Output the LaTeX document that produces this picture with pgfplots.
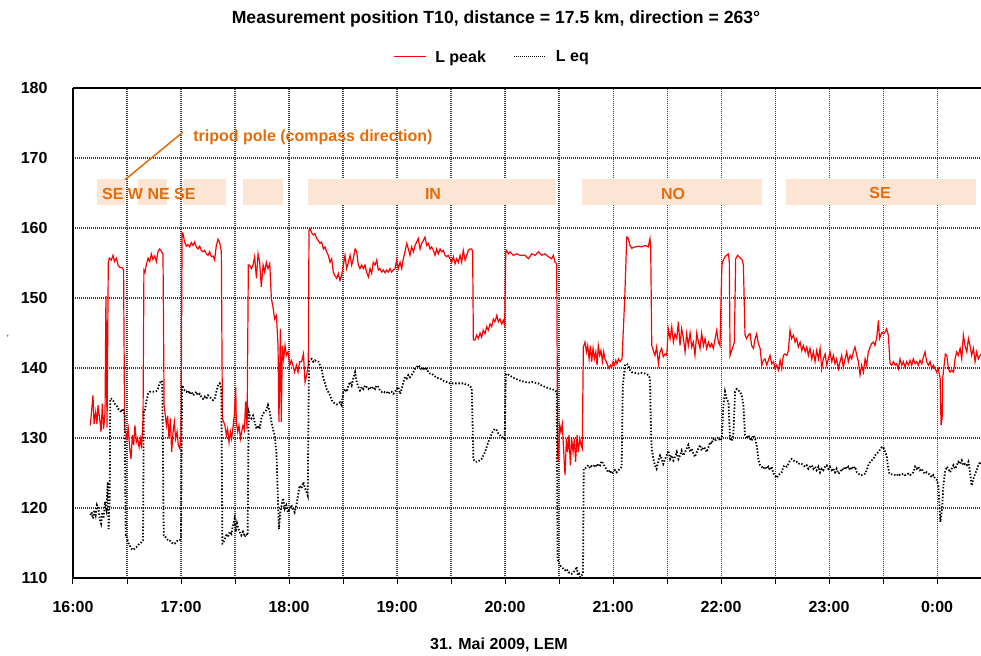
\documentclass[border=0pt]{standalone}
\usepackage{fontspec}
\setmainfont{Liberation Sans}
\usepackage{pgfplots}
\usepackage{pgfplotstable}
\pgfplotsset{compat=1.18}
\definecolor{annot}{RGB}{228,108,10}
\definecolor{boxfill}{RGB}{252,229,212}
\definecolor{gridgray}{RGB}{60,60,60}

% time in minutes after 16:00, level in dB
\pgfplotstableread{
m v
9.6 131.8
10.2 133.5
11.1 136.1
11.7 132.0
12.6 133.7
13.3 132.0
13.9 134.7
14.8 132.8
15.6 130.9
16.3 134.9
17.0 131.3
17.8 133.7
18.3 150.3
18.9 131.5
19.6 155.0
20.2 155.7
21.3 155.4
22.2 156.1
23.1 155.2
24.1 155.7
25.0 154.7
25.9 154.4
27.4 154.3
28.1 154.0
28.7 131.0
29.3 130.9
30.0 129.9
30.7 131.3
31.5 128.5
32.2 127.0
33.0 130.4
33.7 129.0
34.4 131.8
35.2 129.4
35.9 129.9
36.7 128.7
37.4 129.9
38.1 128.5
38.9 132.8
39.4 154.0
40.0 153.7
40.7 154.7
41.7 155.7
42.6 155.2
43.5 156.3
44.4 155.5
45.4 156.0
46.3 155.2
47.2 156.6
48.1 157.0
49.1 156.7
50.0 156.2
50.6 134.7
51.9 131.8
52.6 133.2
53.3 129.9
54.1 132.8
54.8 128.0
55.6 130.9
56.3 132.3
57.0 129.9
57.8 130.9
58.5 129.0
59.3 128.5
60.0 130.4
60.6 159.3
61.1 159.2
62.0 158.0
63.0 157.4
63.9 157.6
64.8 157.3
65.7 157.9
66.7 157.5
67.6 158.0
68.5 157.3
69.4 157.0
70.4 157.4
71.3 156.8
72.2 156.6
73.1 156.8
74.1 156.3
75.0 156.1
75.9 156.6
76.9 155.9
77.8 156.0
78.7 155.4
79.6 157.5
80.6 158.4
81.5 157.9
82.4 156.6
83.0 132.8
84.4 131.8
85.2 130.4
85.9 131.3
86.7 129.4
87.4 130.9
88.1 129.9
88.9 131.6
89.6 133.2
90.4 137.3
90.7 132.3
91.5 130.9
92.2 131.8
93.0 129.9
93.7 130.9
94.4 131.8
95.2 131.1
95.9 135.2
96.7 131.3
97.4 154.7
98.1 154.7
99.1 154.2
100.0 154.7
100.9 155.9
101.9 152.8
102.8 156.3
103.7 155.1
104.6 151.6
105.6 154.7
106.5 153.7
107.4 155.1
108.3 154.2
109.3 154.9
110.2 149.9
111.1 148.7
112.0 147.0
113.0 147.5
113.9 143.2
114.4 132.3
115.2 145.6
115.7 132.3
116.3 143.2
117.0 141.3
117.8 143.2
118.5 141.8
119.4 142.3
120.4 140.4
121.3 141.1
122.2 140.4
123.1 139.4
124.1 140.4
125.0 139.4
125.9 140.9
127.0 140.9
128.0 142.0
128.9 138.0
129.8 139.0
130.7 140.4
131.1 159.7
131.7 159.9
132.6 159.3
133.5 159.0
134.4 159.2
135.4 158.5
136.3 158.2
137.2 157.8
138.1 158.0
139.1 157.0
140.0 157.3
140.9 156.6
141.8 156.1
142.8 155.1
143.7 155.6
144.6 153.7
145.5 153.2
146.5 152.8
147.4 153.5
148.3 152.5
149.2 153.2
150.2 154.7
151.1 156.1
152.0 154.2
153.0 155.1
153.9 156.1
154.8 154.7
155.7 155.6
156.7 157.0
157.6 156.6
158.5 154.7
159.4 154.2
160.4 154.7
161.3 154.2
162.2 154.7
163.1 153.7
164.1 153.0
165.0 154.2
165.9 153.5
166.8 155.1
167.8 154.7
168.7 155.4
169.6 154.0
170.5 154.2
171.5 153.7
172.4 154.0
173.3 153.6
174.2 154.0
175.2 153.7
176.1 154.2
177.0 153.7
177.9 154.0
178.9 154.2
179.8 155.4
180.7 154.2
181.7 155.1
182.6 154.2
183.5 155.6
184.4 156.6
185.4 157.8
186.3 157.0
187.2 156.1
188.1 157.3
189.1 156.6
190.0 157.5
190.9 158.0
191.8 158.5
192.8 157.0
193.7 157.8
194.6 158.2
195.5 158.7
196.5 157.5
197.4 157.8
198.3 157.0
199.2 157.3
200.2 156.8
201.1 156.1
202.0 157.0
202.9 156.3
203.9 157.0
204.8 156.6
205.7 156.8
206.7 156.1
207.6 155.9
208.5 156.1
209.4 155.6
210.4 155.1
211.3 155.9
212.2 154.9
213.1 155.6
214.1 155.1
215.0 156.1
215.9 155.1
216.8 156.8
217.8 155.4
218.7 156.1
219.6 156.8
220.5 157.0
221.5 157.0
222.0 156.6
222.4 144.0
223.3 144.0
224.2 144.7
225.2 144.2
226.1 145.0
227.0 144.4
227.9 145.4
228.9 144.9
229.8 145.9
230.7 145.4
231.7 146.3
232.6 145.9
233.5 147.0
234.4 146.6
235.4 147.5
236.3 146.6
237.2 147.0
238.1 146.3
239.1 146.8
239.8 146.1
240.4 156.6
240.9 156.8
241.8 156.3
242.8 156.6
244.6 156.1
246.5 156.3
248.3 156.1
251.1 156.1
253.0 155.6
254.8 156.3
256.7 156.1
258.5 156.6
260.4 156.1
262.2 156.3
264.1 155.9
265.9 155.6
266.8 156.1
267.8 155.1
268.7 154.9
269.2 128.0
269.6 126.6
270.4 131.8
271.1 130.9
271.8 132.0
272.6 128.0
273.3 124.7
274.1 129.9
274.8 128.0
275.5 130.4
276.3 126.1
277.0 129.9
277.8 128.0
278.5 129.9
279.2 126.6
280.0 130.4
280.7 128.0
281.5 129.9
282.2 129.0
282.9 128.5
283.5 143.0
284.4 143.7
285.2 142.3
285.9 143.2
286.7 141.3
287.4 143.2
288.1 140.9
288.9 142.8
289.6 141.3
290.4 142.3
291.1 140.4
291.8 143.2
292.6 141.8
293.3 142.5
294.1 140.9
294.8 142.3
295.5 141.3
296.3 140.9
297.0 140.4
297.8 139.9
298.5 140.4
299.2 140.1
300.0 140.9
300.7 140.4
301.5 141.1
302.2 140.6
303.0 141.3
303.9 140.9
305.0 141.3
306.5 150.0
307.6 158.7
308.5 158.5
309.4 157.5
310.4 157.1
312.2 157.3
314.1 157.4
315.9 157.3
317.8 157.5
319.6 157.3
320.5 158.5
320.9 157.3
321.5 143.2
322.4 142.5
323.3 141.8
324.2 143.0
325.2 140.6
326.1 142.3
327.0 142.8
327.9 141.6
328.9 142.0
329.8 141.8
330.7 145.6
331.7 144.2
332.6 145.9
333.5 143.7
334.4 144.9
335.4 144.2
336.3 146.6
337.2 143.2
338.1 145.6
339.1 144.2
340.0 142.3
340.9 144.9
341.8 143.2
342.8 145.0
343.7 143.0
344.6 143.7
345.5 141.8
346.5 145.0
347.4 143.7
348.3 142.8
349.2 145.0
350.2 143.2
351.1 144.2
352.0 142.8
353.0 143.7
353.9 143.0
354.8 143.5
355.7 142.8
356.7 144.2
357.6 145.4
358.5 143.7
359.4 143.2
360.4 154.2
360.7 155.1
362.2 155.9
363.1 156.1
364.1 156.3
364.6 155.1
365.0 141.8
365.9 142.5
366.8 143.2
367.4 143.7
368.1 155.6
369.2 156.1
370.0 155.9
371.1 155.6
371.8 155.4
372.4 154.7
373.3 144.7
374.2 144.2
375.2 144.7
376.1 144.9
377.0 143.2
378.0 142.8
378.9 144.2
379.8 144.9
380.7 143.5
381.7 142.8
382.6 140.4
383.5 141.1
384.4 141.3
385.4 140.4
386.3 141.1
387.2 141.8
388.1 140.6
389.1 140.9
390.0 139.9
390.9 140.4
391.8 139.7
392.8 141.1
393.7 139.9
394.6 141.8
395.5 142.0
396.5 141.8
397.4 142.5
398.3 145.4
399.2 144.2
400.2 144.7
401.1 143.7
402.0 144.2
402.9 143.0
403.9 143.7
404.8 142.5
405.7 143.2
406.7 142.3
407.6 143.0
408.5 141.8
409.4 142.8
410.4 141.3
411.3 142.3
412.2 140.9
413.1 142.5
414.1 141.3
415.0 142.8
415.9 139.9
416.8 141.3
417.8 142.0
418.7 140.4
419.6 141.3
420.5 142.3
421.5 140.9
422.4 141.8
423.3 140.6
424.2 141.3
425.2 139.9
426.1 140.9
427.0 141.8
427.9 140.1
428.9 141.3
429.8 142.3
430.7 140.9
431.7 141.8
432.6 141.3
433.5 142.3
434.4 143.0
435.4 141.8
436.3 140.9
437.2 139.0
438.1 140.4
439.1 139.4
440.0 141.3
440.9 140.4
441.8 142.3
442.8 143.0
443.7 143.5
444.6 143.7
445.5 143.2
446.5 144.4
447.4 146.8
448.0 144.2
448.7 144.7
449.4 145.1
450.2 144.9
451.1 145.1
452.0 145.6
452.9 144.7
453.9 140.6
454.8 140.4
455.7 140.9
456.7 140.4
457.6 140.6
458.5 139.9
459.4 141.3
460.4 140.4
461.3 140.9
462.2 140.1
463.1 140.9
464.1 140.4
465.0 141.1
465.9 140.4
466.8 141.3
467.8 140.6
468.7 140.9
469.6 140.4
470.5 141.1
471.5 140.6
472.4 141.6
473.3 142.3
474.2 140.9
475.2 140.4
476.1 140.9
477.0 139.9
477.9 140.4
478.9 139.9
479.8 139.4
480.7 139.9
481.7 138.5
482.2 131.8
482.8 132.8
483.1 138.5
483.9 140.4
484.6 142.0
485.4 141.8
486.3 139.9
487.2 139.4
488.1 139.7
489.1 139.4
490.0 141.3
490.9 142.3
491.8 141.8
492.8 142.8
493.7 141.3
494.6 144.7
495.5 143.2
496.5 142.3
497.4 144.2
498.3 143.2
499.2 141.8
500.2 142.8
501.1 140.9
502.0 142.3
502.9 141.3
503.9 141.8
504.4 142.0
}\lPeakData

\pgfplotstableread{
m v
9.6 119.0
10.4 119.4
11.1 118.5
11.9 119.7
12.6 119.0
13.3 120.4
14.1 119.9
14.8 118.5
15.6 117.8
16.3 119.4
17.0 118.5
17.8 120.9
18.5 119.9
19.3 123.7
19.8 117.0
20.4 121.4
20.7 135.6
21.3 135.6
22.2 135.4
23.1 134.9
24.1 134.7
25.0 134.2
25.9 134.0
26.9 133.7
27.8 134.2
28.7 133.2
29.3 116.1
29.6 116.1
30.6 115.1
31.5 114.7
32.4 114.2
33.3 114.0
34.3 114.2
35.2 114.4
36.1 114.7
37.0 114.9
38.0 115.1
38.9 115.4
39.3 133.7
39.8 133.7
40.7 135.1
41.7 136.3
42.6 136.6
44.4 136.6
46.3 136.7
47.2 137.0
48.1 137.8
49.1 138.2
49.6 138.0
50.4 116.1
50.9 116.1
51.9 115.6
52.8 115.4
53.7 115.4
54.6 115.1
55.6 114.9
56.5 114.9
57.4 115.2
58.3 115.4
59.3 115.4
60.0 115.6
60.6 137.5
61.1 137.3
62.0 136.8
63.0 136.6
63.9 136.8
64.8 136.3
65.7 136.6
66.7 136.1
67.6 136.3
68.5 136.6
69.4 136.1
70.4 136.3
71.3 135.9
72.2 135.6
73.1 135.9
74.1 135.6
75.0 136.1
75.9 135.9
76.9 135.6
77.8 135.4
78.7 135.6
79.6 136.6
80.6 137.5
81.5 137.8
82.4 137.0
83.0 114.9
83.3 114.9
84.3 115.6
85.2 116.1
86.1 115.9
87.0 116.6
88.0 116.3
88.9 117.5
89.8 118.5
90.4 116.6
91.1 117.8
91.9 117.0
92.6 116.6
93.5 116.1
94.4 116.6
95.4 115.9
96.3 116.3
97.0 116.1
97.6 133.7
98.1 133.2
99.1 132.8
100.0 133.2
100.9 132.3
101.9 131.3
102.8 131.8
103.7 131.3
104.6 132.8
105.6 133.5
106.5 133.7
107.4 134.0
108.3 134.7
109.3 133.7
110.2 132.3
111.1 131.3
112.0 130.4
113.0 128.0
113.9 120.9
114.4 117.0
115.2 119.4
115.9 120.4
116.7 121.4
117.6 119.9
118.5 120.4
119.4 119.4
120.4 119.9
121.3 120.4
122.2 119.9
123.1 119.4
124.1 120.4
125.0 121.8
125.9 123.2
127.0 122.8
128.0 123.7
128.9 122.8
129.8 122.3
130.4 121.8
131.1 140.9
131.7 141.1
132.6 141.3
133.5 140.9
134.4 141.1
135.4 140.9
136.3 140.9
137.2 140.4
138.1 139.9
139.1 138.5
140.0 137.8
140.9 137.0
141.8 136.6
142.8 136.1
143.7 135.4
144.6 135.1
145.5 134.9
146.5 134.8
147.4 134.9
148.3 135.1
149.2 134.7
150.2 136.6
151.1 137.0
152.0 136.6
153.0 137.5
153.9 138.0
154.8 137.5
155.7 138.5
156.7 139.4
157.6 138.0
158.5 137.3
159.4 136.8
160.4 137.3
161.3 137.0
162.2 137.5
163.1 137.3
164.1 137.0
165.0 137.3
165.9 137.0
166.8 137.3
167.8 137.0
168.7 137.5
169.6 137.3
170.5 136.8
171.5 136.6
172.4 136.7
173.3 136.5
174.2 136.6
175.2 136.3
176.1 136.6
177.0 136.6
177.9 136.3
178.9 136.6
179.8 137.0
180.7 137.3
181.7 136.3
182.6 137.0
183.5 138.0
184.4 138.7
185.4 138.5
186.3 139.0
187.2 138.7
188.1 139.0
189.1 139.4
190.0 139.9
190.9 140.1
191.8 140.4
192.8 140.1
193.7 139.7
194.6 140.1
195.5 139.7
196.5 139.9
197.4 139.4
198.3 139.2
199.2 139.2
200.2 139.0
202.0 138.6
203.9 138.5
205.7 138.2
207.6 138.0
209.4 137.8
211.3 137.8
213.1 137.8
215.0 137.8
216.8 137.8
218.7 137.6
220.5 137.5
221.5 137.0
222.0 131.8
222.4 127.0
223.3 126.6
224.2 126.6
225.2 126.7
226.1 126.8
227.0 127.0
227.9 127.5
228.9 128.0
229.8 128.7
230.7 129.4
231.7 130.1
232.6 130.6
233.5 131.1
234.4 131.3
235.4 131.1
236.3 130.6
237.2 130.4
238.1 130.1
239.1 130.1
239.8 129.9
240.4 139.0
240.9 139.2
242.8 138.9
244.6 138.6
246.5 138.4
248.3 138.2
251.1 138.0
253.0 137.9
254.8 138.0
256.7 137.9
258.5 137.8
260.4 137.5
262.2 137.3
264.1 137.1
265.9 137.0
267.8 136.8
268.7 136.6
269.2 112.8
269.6 112.3
270.5 111.8
271.5 111.6
272.4 111.3
273.3 111.1
274.2 111.3
275.2 110.8
276.1 110.8
277.0 110.6
277.9 110.8
278.9 111.1
279.8 111.6
280.4 110.4
281.1 110.6
281.8 110.1
282.6 110.4
283.3 110.6
283.7 125.6
284.4 125.6
285.4 125.9
286.3 126.1
287.2 125.7
288.1 126.0
289.1 125.9
290.0 126.2
290.9 125.9
291.8 126.3
292.8 126.1
293.7 126.7
294.6 126.3
295.5 125.9
296.5 125.4
297.4 125.1
298.3 125.4
299.2 124.9
300.2 125.1
301.1 125.4
302.0 125.1
303.0 125.4
303.9 125.6
304.8 125.9
305.4 137.5
306.7 140.4
307.6 140.6
308.5 140.4
309.4 139.7
310.4 139.4
312.2 139.3
314.1 139.2
315.9 139.3
317.8 139.2
319.6 139.0
320.5 138.5
321.1 130.9
321.5 128.5
322.4 127.0
323.3 126.1
324.2 125.6
325.2 126.8
326.1 127.5
327.0 127.0
327.9 126.3
328.9 127.0
329.8 127.5
330.7 128.2
331.7 127.0
332.6 127.5
333.5 126.8
334.4 127.3
335.4 128.0
336.3 127.0
337.2 127.5
338.1 128.2
339.1 127.5
340.0 128.0
340.9 128.5
341.8 129.0
342.8 128.0
343.7 128.5
344.6 127.8
345.5 127.3
346.5 128.0
347.4 128.5
348.3 129.0
349.2 128.2
350.2 128.7
351.1 128.5
352.0 128.0
353.0 128.7
353.9 129.4
354.8 129.2
355.7 129.9
356.7 129.6
357.6 129.9
358.5 130.1
359.4 129.6
360.4 129.9
361.3 134.7
362.2 136.6
363.1 135.6
364.1 135.1
365.0 129.9
365.9 129.6
366.8 130.4
367.8 136.6
368.7 137.0
369.6 136.8
370.5 136.6
371.5 136.1
372.4 134.7
373.3 130.4
374.2 129.9
375.2 130.4
376.1 129.9
377.0 129.6
378.0 130.4
378.9 129.9
379.8 129.0
380.7 127.0
381.7 126.1
382.6 125.9
383.5 125.6
384.4 125.9
385.4 125.6
386.3 125.9
387.2 125.4
388.1 125.9
389.1 124.9
390.0 124.7
390.9 124.3
391.8 124.7
392.8 124.9
393.7 125.1
394.6 125.9
395.5 126.1
396.5 125.9
397.4 126.3
398.3 126.8
399.2 127.0
400.2 126.8
401.1 126.6
402.0 126.6
402.9 126.3
403.9 126.4
404.8 126.3
405.7 126.1
406.7 125.9
407.6 126.1
408.5 125.6
409.4 125.9
410.4 126.1
411.3 125.6
412.2 125.9
413.1 125.4
414.1 125.9
415.0 125.1
415.9 125.6
416.8 125.4
417.8 125.9
418.7 126.1
419.6 125.6
420.5 125.9
421.5 125.4
422.4 125.6
423.3 125.1
424.2 125.6
425.2 124.9
426.1 125.1
427.0 125.6
427.9 125.4
428.9 125.9
429.8 125.6
430.7 125.9
431.7 125.4
432.6 125.9
433.5 125.6
434.4 125.9
435.4 125.1
436.3 124.9
437.2 124.7
438.1 124.7
439.1 124.9
440.0 124.9
440.9 125.4
441.8 126.1
442.8 126.6
443.7 126.8
444.6 127.0
445.5 127.5
446.5 127.8
447.4 128.0
448.0 128.2
448.7 128.5
449.4 128.7
450.2 128.7
451.1 128.0
452.0 127.5
452.6 126.1
453.5 124.9
454.8 124.8
455.7 124.8
456.7 124.7
457.6 124.6
458.5 124.9
459.4 124.7
460.4 124.8
461.3 124.9
462.2 124.7
463.1 124.8
464.1 124.9
465.0 124.7
465.9 124.9
466.8 125.1
467.8 125.9
468.7 125.6
469.6 125.9
470.5 125.4
471.5 125.6
472.4 125.1
473.3 124.9
474.2 125.1
475.2 124.9
476.1 124.7
477.0 124.4
477.9 124.7
478.9 124.2
479.8 124.0
480.7 123.2
481.3 120.4
481.8 118.0
482.4 119.0
482.9 120.4
483.5 123.2
484.4 125.1
485.4 125.9
486.3 125.6
487.2 125.1
488.1 125.6
489.1 126.1
490.0 125.6
490.9 126.1
491.8 126.6
492.8 126.3
493.7 126.8
494.6 126.1
495.5 126.3
496.5 126.1
497.4 126.6
498.3 125.1
499.2 123.2
500.2 124.2
501.1 124.9
502.0 125.4
502.9 126.1
503.9 126.6
504.4 126.3
}\lEqData

\begin{document}
\begin{tikzpicture}[font=\fontsize{16}{19}\selectfont\bfseries]
\begin{axis}[
  at={(0pt,0pt)}, anchor=south west,
  scale only axis, width=908pt, height=490pt,
  xmin=0, xmax=504.4, ymin=110, ymax=180,
  axis x line=box, axis y line=left,
  axis line style={-, line width=1.6pt, black},
  xtick={0,60,...,480},
  xticklabels={16:00,17:00,18:00,19:00,20:00,21:00,22:00,23:00,0:00},
  minor xtick={30,90,...,450},
  ytick={110,120,...,180},
  xtick pos=left,
  tick align=outside,
  major tick length=6pt, minor tick length=6pt,
  xtick style={black, line width=1pt},
  ytick style={draw=none},
  grid=both,
  major grid style={gridgray, line width=1.1pt, dash pattern=on 0.9pt off 1.1pt},
  minor grid style={gridgray, line width=1.1pt, dash pattern=on 0.9pt off 1.1pt},
  /pgf/number format/assume math mode=true,
  tick label style={font=\fontsize{16}{19}\selectfont\bfseries},
  xticklabel style={yshift=-14pt},
  yticklabel style={xshift=-16pt},
  legend style={at={(axis description cs:0.4615,1.0633)}, anchor=center,
    draw=none, fill=none, legend columns=2,
    font=\fontsize{16}{19}\selectfont\bfseries,
    /tikz/every odd column/.append style={column sep=7pt},
    /tikz/every even column/.append style={column sep=26pt}},
  legend image code/.code={\draw[#1, line width=1pt] (0pt,0pt) -- (32pt,0pt);},
]
\addplot[red, line width=1.2pt] table[x=m, y=v]{\lPeakData};
\addlegendentry{L peak}
\addplot[black, line width=1.8pt, dash pattern=on 1.4pt off 1.8pt,
  legend image post style={dash pattern=on 1pt off 1pt}] table[x=m, y=v]{\lEqData};
\addlegendentry{L eq}

% compass direction bands
\fill[boxfill] (axis cs:13.3,163.3) rectangle (axis cs:28.9,167.0);
\fill[boxfill] (axis cs:36.1,163.3) rectangle (axis cs:52.2,167.0);
\fill[boxfill] (axis cs:61.1,163.3) rectangle (axis cs:85.0,167.0);
\fill[boxfill] (axis cs:94.4,163.3) rectangle (axis cs:116.7,167.0);
\fill[boxfill] (axis cs:130.6,163.3) rectangle (axis cs:268.3,167.0);
\fill[boxfill] (axis cs:282.8,163.3) rectangle (axis cs:382.8,167.0);
\fill[boxfill] (axis cs:396.1,163.3) rectangle (axis cs:501.7,167.0);
\draw[annot, line width=1.5pt] (axis cs:28.9,166.9) -- (axis cs:61.1,173.7);
\node[annot, anchor=west, inner sep=0pt] at (axis cs:66.7,173.0) {tripod pole (compass direction)};
\node[annot, anchor=west, inner sep=0pt] at (axis cs:16.1,164.9) {SE W NE SE};
\node[annot, inner sep=0pt] at (axis cs:200,164.9) {IN};
\node[annot, inner sep=0pt] at (axis cs:333.3,164.8) {NO};
\node[annot, inner sep=0pt] at (axis cs:448.3,165.0) {SE};
\end{axis}
\node[anchor=base] at (423pt,554pt) {\fontsize{17.6}{21}\selectfont Measurement position T10, distance = 17.5 km, direction = 263°};
\node[anchor=base] at (426pt,-71pt) {31. Mai 2009, LEM};
\node[font=\fontsize{9}{10}\selectfont] at (-65pt,240pt) {'};
\pgfresetboundingbox
\path[use as bounding box] (-73pt,-77pt) rectangle (908pt,578pt);
\end{tikzpicture}
\end{document}
